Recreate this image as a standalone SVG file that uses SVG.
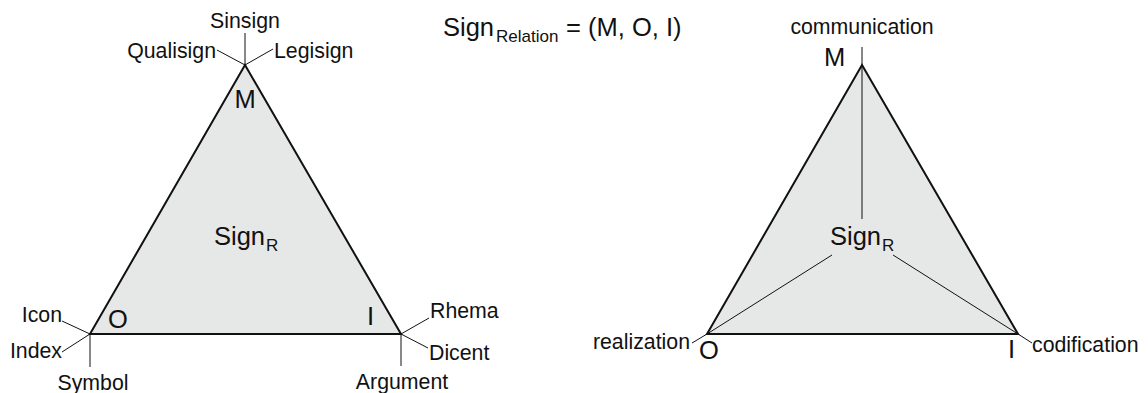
<svg xmlns="http://www.w3.org/2000/svg" width="1148" height="393" viewBox="0 0 1148 393">
<style>
text{font-family:"Liberation Sans",Arial,Helvetica,sans-serif;fill:#111}
.lab{font-size:21.3px}
.big{font-size:25.5px}
.sub{font-size:17px}
.tri{fill:#e6e7e7;stroke:#111;stroke-width:2;stroke-linejoin:miter}
.ln{stroke:#111;stroke-width:1;fill:none}
</style>
<rect width="1148" height="393" fill="#fff"/>
<g id="title">
<text class="big" x="443" y="36">Sign</text>
<text class="sub" x="496" y="42">Relation</text>
<text class="big" x="566" y="36">= (M, O, I)</text>
</g>
<g id="left-triangle">
<polygon class="tri" points="245,65 90,334 401,334"/>
<text class="big" x="245" y="108" text-anchor="middle">M</text>
<text class="big" x="108" y="328">O</text>
<text class="big" x="367" y="325">I</text>
<text class="big" x="214" y="245">Sign</text>
<text class="sub" x="266" y="251">R</text>
</g>
<g id="right-triangle">
<polygon class="tri" points="862,65 707,334 1018,334"/>
<text class="big" x="824" y="66">M</text>
<text class="big" x="699" y="359">O</text>
<text class="big" x="1008" y="358">I</text>
<text class="big" x="830" y="245">Sign</text>
<text class="sub" x="882" y="251">R</text>
</g>
<g id="labels">
<text class="lab" x="245" y="28" text-anchor="middle">Sinsign</text>
<text class="lab" x="216" y="58" text-anchor="end">Qualisign</text>
<text class="lab" x="274" y="58">Legisign</text>
<text class="lab" x="62" y="322" text-anchor="end">Icon</text>
<text class="lab" x="62" y="358" text-anchor="end">Index</text>
<text class="lab" x="93" y="390" text-anchor="middle">Symbol</text>
<text class="lab" x="430" y="318">Rhema</text>
<text class="lab" x="429" y="360">Dicent</text>
<text class="lab" x="402" y="389" text-anchor="middle">Argument</text>
<text class="lab" x="862" y="34" text-anchor="middle">communication</text>
<text class="lab" x="690" y="349" text-anchor="end">realization</text>
<text class="lab" x="1032" y="352">codification</text>
</g>
<g id="connectors">
<line class="ln" x1="245" y1="65" x2="245" y2="33"/>
<line class="ln" x1="245" y1="65" x2="217" y2="50"/>
<line class="ln" x1="245" y1="65" x2="273" y2="49"/>
<line class="ln" x1="90" y1="334" x2="62" y2="321"/>
<line class="ln" x1="90" y1="334" x2="62" y2="352"/>
<line class="ln" x1="90" y1="334" x2="90" y2="367"/>
<line class="ln" x1="401" y1="334" x2="429" y2="318"/>
<line class="ln" x1="401" y1="334" x2="428" y2="348"/>
<line class="ln" x1="401" y1="334" x2="401" y2="366"/>
<line class="ln" x1="862" y1="65" x2="862" y2="47"/>
<line class="ln" x1="707" y1="334" x2="692" y2="343"/>
<line class="ln" x1="1018" y1="334" x2="1032" y2="343"/>
<line class="ln" x1="862" y1="65" x2="862" y2="219"/>
<line class="ln" x1="707" y1="334" x2="832" y2="255"/>
<line class="ln" x1="1018" y1="334" x2="893" y2="255"/>
</g>
</svg>
